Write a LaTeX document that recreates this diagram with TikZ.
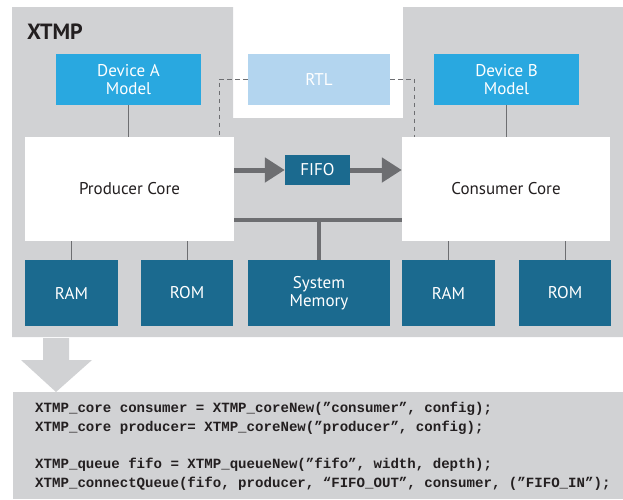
\documentclass[tikz,border=0pt]{standalone}
\usepackage{fontspec}
\setmainfont{PT Sans}
\newfontfamily\codefont{Liberation Mono}
\usetikzlibrary{arrows.meta}
\definecolor{bggray}{HTML}{D1D2D4}
\definecolor{teal}{HTML}{1B6A8F}
\definecolor{devblue}{HTML}{29A8E0}
\definecolor{rtlblue}{HTML}{B3D5EF}
\definecolor{linegray}{HTML}{6D6E71}
\definecolor{txtdark}{HTML}{231F20}
\tikzset{
  box/.style={rectangle, inner sep=0pt, align=center, font=\fontsize{17}{17.5}\selectfont, text=white},
  devbox/.style={box, fill=devblue},
  membox/.style={box, fill=teal, minimum height=66pt},
  corebox/.style={box, fill=white, text=txtdark, minimum width=209pt, minimum height=104pt},
  thin/.style={draw=linegray, line width=1pt},
  dashedlink/.style={draw=linegray, line width=1pt, dash pattern=on 4.5pt off 3.5pt},
  thickarrow/.style={draw=linegray, line width=5pt, -{Triangle[length=20pt,width=24pt]}},
  bus/.style={draw=linegray, line width=4.5pt},
}
\begin{document}
\begin{tikzpicture}[x=1pt,y=-1pt]
\useasboundingbox (0,0) rectangle (623,499);
% background regions
\fill[bggray] (12,7) -- (233,7) -- (233,118) -- (403,118) -- (403,7) -- (623,7) -- (623,337) -- (12,337) -- cycle;
\fill[bggray] (13,392) rectangle (623,499);
\fill[bggray] (43,338) -- (69,338) -- (69,360) -- (92,360) -- (56,392) -- (21,360) -- (43,360) -- cycle;
\node[anchor=base west, font=\fontsize{22}{24}\selectfont\bfseries, text=txtdark, inner sep=0pt] (title) at (27,39) {XTMP};
% top row
\node[devbox, minimum width=145pt, minimum height=51pt] (deva) at (128.5,79.5) {Device A\\Model};
\node[box, fill=rtlblue, minimum width=142pt, minimum height=51pt] (rtl) at (319,79.5) {RTL};
\node[devbox, minimum width=145pt, minimum height=51pt] (devb) at (506.5,79.5) {Device B\\Model};
% cores
\node[corebox] (prod) at (129.5,189) {Producer Core};
\node[corebox, minimum width=208pt] (cons) at (506,189) {Consumer Core};
\node[box, fill=teal, minimum width=65pt, minimum height=30pt] (fifo) at (317.5,170) {FIFO};
% memories
\node[membox, minimum width=93pt] (ram1) at (71.5,293) {RAM};
\node[membox, minimum width=92pt] (rom1) at (187,293) {ROM};
\node[membox, minimum width=142pt] (sysmem) at (319,293) {System\\Memory};
\node[membox, minimum width=93pt] (ram2) at (448.5,293) {RAM};
\node[membox, minimum width=92pt] (rom2) at (565,293) {ROM};
% connectors
\draw[thin] (deva.south) -- (deva.south |- prod.north);
\draw[thin] (devb.south) -- (devb.south |- cons.north);
\draw[dashedlink] (rtl.west) -| ([xshift=-15pt]prod.north east);
\draw[dashedlink] (rtl.east) -| ([xshift=13pt]cons.north west);
\draw[thickarrow] (prod.east |- fifo.west) -- (fifo.west);
\draw[thickarrow] (fifo.east) -- (cons.west |- fifo.east);
\coordinate (busL) at ([yshift=-31pt]prod.east);
\coordinate (busR) at ([yshift=-31pt]cons.west);
\draw[bus] (busL) -- (busR);
\draw[bus] (sysmem.north |- busL) -- (sysmem.north);
\draw[thin] (ram1.north) -- (ram1.north |- prod.south);
\draw[thin] (rom1.north) -- (rom1.north |- prod.south);
\draw[thin] (ram2.north) -- (ram2.north |- cons.south);
\draw[thin] (rom2.north) -- (rom2.north |- cons.south);
% code
\node[anchor=north west, inner sep=0pt, align=left, text=txtdark,
  font=\codefont\bfseries\fontsize{14.1}{18.6}\selectfont] (code) at (35,402)
{XTMP\_core consumer = XTMP\_coreNew(”consumer”, config);\\
XTMP\_core producer= XTMP\_coreNew(”producer”, config);\\[19pt]
XTMP\_queue fifo = XTMP\_queueNew(”fifo”, width, depth);\\
XTMP\_connectQueue(fifo, producer, “FIFO\_OUT”, consumer, (”FIFO\_IN”);};
\end{tikzpicture}
\end{document}
